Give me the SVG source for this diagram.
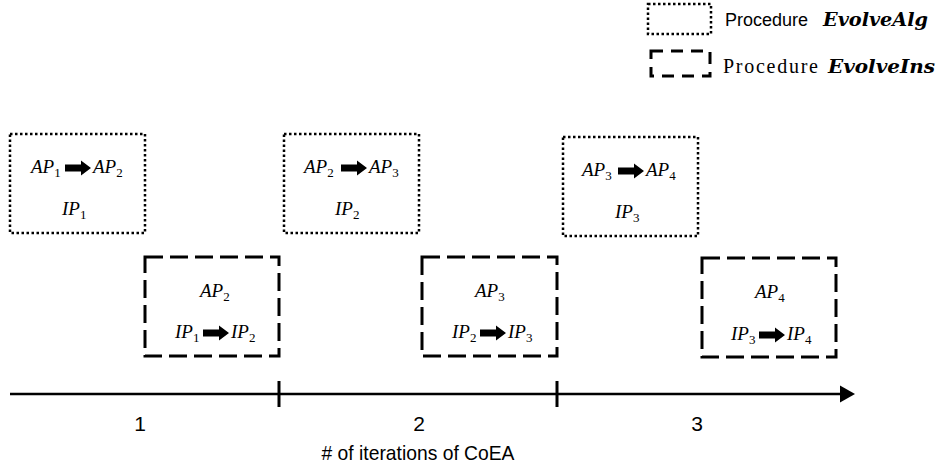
<svg xmlns="http://www.w3.org/2000/svg" xmlns:xlink="http://www.w3.org/1999/xlink" width="938" height="470" viewBox="0 0 938 470">
<style>
.dot{fill:none;stroke:#000;stroke-width:2.5;stroke-dasharray:2.5 2.5}
.dash{fill:none;stroke:#000;stroke-width:3;stroke-dasharray:18 7}
.m{font-family:"Liberation Serif",serif;font-style:italic;font-size:19px;fill:#000}
.sub{font-size:13px;font-style:normal}
.lbl{font-family:"Liberation Sans",Arial,sans-serif;font-size:21px;fill:#000}
.leg{font-family:"Liberation Sans",Arial,sans-serif;font-size:18px;fill:#000}
.legs{font-family:"Liberation Serif",serif;font-size:20px;fill:#000}
.bi{font-family:"DejaVu Serif",serif;font-weight:bold;font-style:italic;font-size:18px;fill:#000}
</style>
<defs>
<path id="barr" d="M0,-3.5 H16 V-7.5 L26,0 L16,7.5 V3.5 H0 Z" fill="#000"/>
</defs>
<g id="legend">
<rect class="dot" x="648" y="4" width="63" height="30"/>
<text class="leg" x="725" y="26">Procedure</text>
<text class="bi" x="823" y="26" textLength="105" lengthAdjust="spacingAndGlyphs">EvolveAlg</text>
<rect class="dash" x="651" y="51" width="59" height="25" style="stroke-dasharray:12 8"/>
<text class="legs" x="723" y="73" textLength="95">Procedure</text>
<text class="bi" x="828" y="73" textLength="107" lengthAdjust="spacingAndGlyphs">EvolveIns</text>
</g>
<g id="alg1">
<rect class="dot" x="10" y="134" width="135" height="99"/>
<text class="m" x="31" y="173">AP<tspan class="sub" dy="4">1</tspan></text>
<use xlink:href="#barr" x="65" y="168"/>
<text class="m" x="93" y="173">AP<tspan class="sub" dy="4">2</tspan></text>
<text class="m" x="62" y="215">IP<tspan class="sub" dy="4">1</tspan></text>
</g>
<g id="ins1">
<rect class="dash" x="145" y="257" width="134" height="99"/>
<text class="m" x="200" y="297">AP<tspan class="sub" dy="4">2</tspan></text>
<text class="m" x="175" y="338">IP<tspan class="sub" dy="4">1</tspan></text>
<use xlink:href="#barr" x="203" y="333"/>
<text class="m" x="231" y="338">IP<tspan class="sub" dy="4">2</tspan></text>
</g>
<g id="alg2">
<rect class="dot" x="284" y="134" width="135" height="99"/>
<text class="m" x="304" y="173">AP<tspan class="sub" dy="4">2</tspan></text>
<use xlink:href="#barr" x="341" y="168"/>
<text class="m" x="369" y="173">AP<tspan class="sub" dy="4">3</tspan></text>
<text class="m" x="335" y="215">IP<tspan class="sub" dy="4">2</tspan></text>
</g>
<g id="ins2">
<rect class="dash" x="422" y="257" width="135" height="99"/>
<text class="m" x="475" y="297">AP<tspan class="sub" dy="4">3</tspan></text>
<text class="m" x="452" y="338">IP<tspan class="sub" dy="4">2</tspan></text>
<use xlink:href="#barr" x="480" y="333"/>
<text class="m" x="508" y="338">IP<tspan class="sub" dy="4">3</tspan></text>
</g>
<g id="alg3">
<rect class="dot" x="563" y="137" width="135" height="99"/>
<text class="m" x="582" y="176">AP<tspan class="sub" dy="4">3</tspan></text>
<use xlink:href="#barr" x="618" y="171"/>
<text class="m" x="646" y="176">AP<tspan class="sub" dy="4">4</tspan></text>
<text class="m" x="615" y="218">IP<tspan class="sub" dy="4">3</tspan></text>
</g>
<g id="ins3">
<rect class="dash" x="702" y="258" width="134" height="99"/>
<text class="m" x="755" y="298">AP<tspan class="sub" dy="4">4</tspan></text>
<text class="m" x="731" y="340">IP<tspan class="sub" dy="4">3</tspan></text>
<use xlink:href="#barr" x="759" y="335"/>
<text class="m" x="787" y="340">IP<tspan class="sub" dy="4">4</tspan></text>
</g>
<g id="connectors">
<line x1="10" y1="394" x2="842" y2="394" stroke="#000" stroke-width="2.5"/>
<polygon points="840,385.5 855,394 840,402.5" fill="#000"/>
<line x1="279" y1="381" x2="279" y2="407" stroke="#000" stroke-width="3"/>
<line x1="557" y1="381" x2="557" y2="407" stroke="#000" stroke-width="3"/>
</g>
<g id="axis-labels">
<text class="lbl" x="140" y="431" text-anchor="middle">1</text>
<text class="lbl" x="419" y="431" text-anchor="middle">2</text>
<text class="lbl" x="697" y="431" text-anchor="middle">3</text>
<text class="lbl" x="418" y="460" text-anchor="middle" textLength="193" lengthAdjust="spacingAndGlyphs"># of iterations of CoEA</text>
</g>
</svg>
